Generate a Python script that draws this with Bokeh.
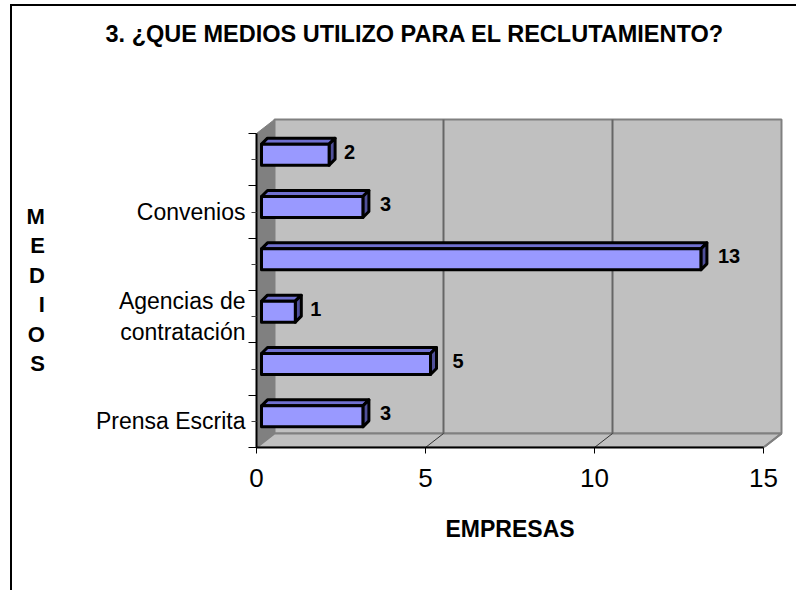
from bokeh.plotting import figure
from bokeh.embed import file_html
from bokeh.resources import INLINE
from bokeh.models import Range1d, FixedTicker, Title, ColumnDataSource
from bokeh.core.properties import value

# --- data ---
categories = ["Prensa Escrita", "", "Agencias de\ncontratación", "", "Convenios", ""]
empresas = [3, 5, 1, 13, 3, 2]
x_ticks = [0, 5, 10, 15]
title_text = "3. ¿QUE MEDIOS UTILIZO PARA EL RECLUTAMIENTO?"
x_title = "EMPRESAS"
y_title = "\n" + "\n".join("MEDIOS")

# --- layout (pixels on the canvas) ---
W, H = 796, 590
L, R, T, B = 256, 786, 102, 447
PX_X = 33.8    # px per unit on x
PX_Y = 52.33   # px per category
FONT = "Liberation Sans"
label_nudge = [11, 16, 9, 11, 11, 9]   # value-label gap from the bar tip, px

p = figure(width=W, height=H, output_backend="svg", toolbar_location=None,
           min_border_left=L, min_border_right=W - R, min_border_top=T, min_border_bottom=H - B,
           x_range=Range1d(0, (R - L) / PX_X),
           y_range=Range1d(-0.5, -0.5 + (B - T) / PX_Y),
           outline_line_color=None, background_fill_color="white", border_fill_color=None)
# the outer chart-area border (left and top edges only reach the window's edge)
p.styles = {
    "position": "absolute", "top": "0", "left": "0",
    "background-color": "white",
    "background-image": "linear-gradient(#000,#000),linear-gradient(#000,#000)",
    "background-position": "10px 4px,10px 4px",
    "background-size": "2px 586px,786px 2px",
    "background-repeat": "no-repeat",
}
p.grid.visible = False

# --- 3D box ---
wall_dx, wall_dy = 18 / PX_X, 14 / PX_Y
x0, x1 = 0, 15
y0, y1 = -0.5, 5.5
yb = y0 + wall_dy
yt = y1 + wall_dy
GREY = "#C0C0C0"
EDGE = "#808080"
p.patch([x0 + wall_dx, x1 + wall_dx, x1 + wall_dx, x0 + wall_dx], [yb, yb, yt, yt],
        fill_color=GREY, line_color=EDGE, line_width=2)
p.patch([x0, x0 + wall_dx, x1 + wall_dx, x1], [y0, yb, yb, y0],
        fill_color=GREY, line_color=EDGE, line_width=2)
p.patch([x0, x0 + wall_dx, x0 + wall_dx, x0], [y0, yb, yt, y1],
        fill_color=EDGE, line_color=EDGE, line_width=1)
for t in x_ticks[1:3]:
    p.line([t + wall_dx, t + wall_dx], [yb, yt], line_color="#666666", line_width=2)
    p.line([t, t + wall_dx], [y0, yb], line_color="#333333", line_width=1)
p.line([x1, x1 + wall_dx], [y0, yb], line_color=EDGE, line_width=2)

# --- bars ---
off_x, off_y = 5 / PX_X, 5 / PX_Y
half = 10.5 / PX_Y
dep_x, dep_y = 6 / PX_X, 6 / PX_Y
for i, v in enumerate(empresas):
    xa, xb = off_x, v + off_x
    ya, yb_ = i + off_y - half, i + off_y + half
    p.patch([xa, xa + dep_x, xb + dep_x, xb], [yb_, yb_ + dep_y, yb_ + dep_y, yb_],
            fill_color="#7070D0", line_color="black", line_width=3, line_join="round")
    p.patch([xb, xb + dep_x, xb + dep_x, xb], [ya, ya + dep_y, yb_ + dep_y, yb_],
            fill_color="#50509A", line_color="black", line_width=3, line_join="round")
    p.patch([xa, xb, xb, xa], [ya, ya, yb_, yb_],
            fill_color="#9999FF", line_color="black", line_width=3, line_join="round")

src = ColumnDataSource(dict(
    x=[v + off_x + dep_x for v in empresas],
    y=[i + off_y for i in range(len(empresas))],
    t=[str(v) for v in empresas],
    dx=label_nudge))
p.text("x", "y", "t", source=src, x_offset="dx", y_offset=-3,
       text_font=value(FONT), text_font_style="bold", text_font_size="20px",
       text_baseline="middle", text_align="left", text_color="black")

# --- axes ---
xa_ = p.xaxis[0]
xa_.bounds = (0, 15)
xa_.ticker = FixedTicker(ticks=x_ticks)
xa_.axis_line_color = "black"
xa_.axis_line_width = 2
xa_.major_tick_out = 6
xa_.major_tick_in = 0
xa_.major_tick_line_color = "black"
xa_.minor_tick_line_color = None
xa_.major_label_text_font = FONT
xa_.major_label_text_font_size = "26px"
xa_.major_label_text_color = "black"
xa_.major_label_standoff = 15

ya_ = p.yaxis[0]
ya_.bounds = (-0.5, 5.5)
ya_.ticker = FixedTicker(ticks=list(range(len(categories))),
                         minor_ticks=[i - 0.5 for i in range(len(categories) + 1)])
ya_.major_label_overrides = {i: c for i, c in enumerate(categories)}
ya_.axis_line_color = "black"
ya_.axis_line_width = 2
ya_.major_tick_out = 5
ya_.major_tick_in = 0
ya_.major_tick_line_color = "#444444"
ya_.minor_tick_out = 8
ya_.minor_tick_in = 0
ya_.minor_tick_line_color = "black"
ya_.major_label_text_font = FONT
ya_.major_label_text_font_size = "23px"
ya_.major_label_text_color = "black"
ya_.major_label_standoff = 3
ya_.axis_label = y_title
ya_.axis_label_orientation = "horizontal"
ya_.axis_label_text_align = "center"
ya_.axis_label_text_font = FONT
ya_.axis_label_text_font_style = "bold"
ya_.axis_label_text_font_size = "22px"
ya_.axis_label_text_line_height = 1.18
ya_.axis_label_text_color = "black"
ya_.axis_label_standoff = 48

# --- titles ---
p.title = Title(text=title_text, align="left", offset=105 - L, standoff=0,
                text_font=FONT, text_font_style="bold", text_font_size="23.5px", text_color="black")
p.add_layout(Title(text=" ", standoff=32, text_font_size="20px"), "above")
p.add_layout(Title(text=x_title, align="left", offset=445 - L, standoff=48,
                   text_font=FONT, text_font_style="bold", text_font_size="23px", text_color="black"),
             "below")

open("out.html", "w").write(file_html(p, INLINE))
